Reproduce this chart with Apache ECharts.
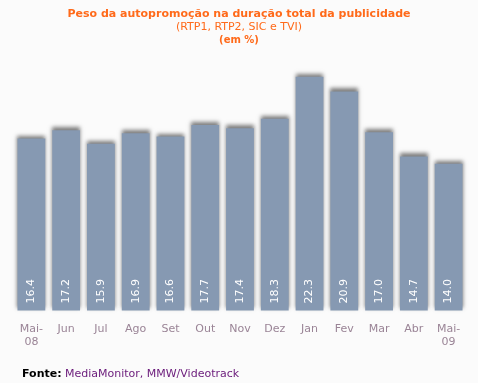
<!DOCTYPE html>
<html><head><meta charset="utf-8">
<script src="https://cdn.jsdelivr.net/npm/echarts@6/dist/echarts.min.js"></script>
<style>html,body{margin:0;padding:0;background:#fbfbfb}#c{width:478px;height:383px}</style>
</head><body><div id="c"></div>
<script>
const categories = ['Mai-\n08','Jun','Jul','Ago','Set','Out','Nov','Dez','Jan','Fev','Mar','Abr','Mai-\n09'];
const values = [16.4,17.2,15.9,16.9,16.6,17.7,17.4,18.3,22.3,20.9,17.0,14.7,14.0];
const titleText = 'Peso da autopromoção na duração total da publicidade';
const subText = '(RTP1, RTP2, SIC e TVI)';
const unitText = '(em %)';

const chart = echarts.init(document.getElementById('c'));
const F = 'DejaVu Sans, Verdana, sans-serif';
chart.setOption({
  backgroundColor: '#fbfbfb',
  animation: false,
  graphic: [
    {type:'text', left:'center', top:9, style:{text:titleText, font:'bold 11px '+F, fill:'#ff6a1a'}},
    {type:'text', left:'center', top:22, style:{text:subText, font:'11px '+F, fill:'#ff6a1a'}},
    {type:'text', left:'center', top:35, style:{text:unitText, font:'bold 10px '+F, fill:'#ff6a1a'}},
    {type:'text', left:22, top:368, style:{
      text:'{a|Fonte:} {b|MediaMonitor, MMW/Videotrack}',
      rich:{a:{font:'bold 11px '+F, fill:'#000'}, b:{font:'11px '+F, fill:'#6a1a7a'}}
    }}
  ],
  grid: {left:14, right:12, top:60, bottom:72.5, containLabel:false},
  xAxis: {
    type:'category', data:categories,
    axisLine:{show:false}, axisTick:{show:false},
    axisLabel:{color:'#9a8496', fontFamily:F, fontSize:11, margin:12, lineHeight:13, interval:0}
  },
  yAxis: {type:'value', min:0, max:23.9, show:false, splitLine:{show:false}},
  series: [{
    type:'bar', data:values, barCategoryGap:'20%',
    itemStyle:{color:'#8699b2', shadowColor:'rgba(0,0,0,0.5)', shadowBlur:4, shadowOffsetY:-3},
    label:{show:true, position:'insideBottom', rotate:90, distance:7, align:'left', verticalAlign:'middle',
      color:'#ffffff', fontFamily:F, fontSize:11, formatter:p=>p.value.toFixed(1)}
  }]
});
</script></body></html>
